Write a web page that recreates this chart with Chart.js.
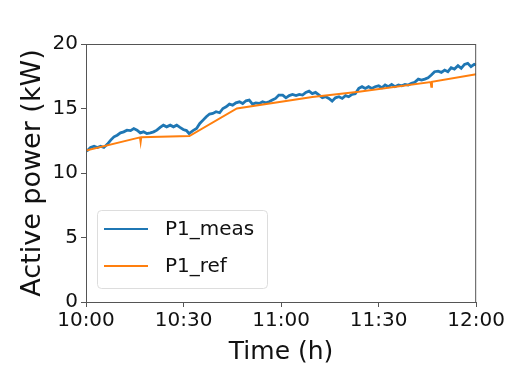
<!DOCTYPE html>
<html>
<head>
<meta charset="utf-8">
<script src="https://cdn.jsdelivr.net/npm/chart.js@4/dist/chart.umd.min.js"></script>
<style>
  html, body { margin: 0; padding: 0; background: #fff; }
  #wrap { width: 507px; height: 368px; }
</style>
</head>
<body>
<div id="wrap"><canvas id="myChart" width="507" height="368"></canvas></div>
<script>
// Data, time in minutes after 10:00
const measMinutes = [0.2, 1.4, 2.5, 3.5, 4.5, 5.5, 6.6, 7.6, 8.6, 9.6, 10.6, 11.6, 12.6, 13.7, 14.7, 15.7,
    16.7, 17.7, 18.7, 19.8, 20.8, 21.8, 22.8, 23.8, 24.8, 25.9, 26.9, 27.9, 28.9, 29.9, 30.9, 31.7,
    32.9, 34.0, 35.0, 36.0, 37.0, 38.0, 39.0, 40.0, 41.1, 42.1, 43.1, 44.1, 45.1, 46.1, 47.2, 48.2,
    49.2, 50.2, 51.2, 52.2, 53.3, 54.3, 55.3, 56.3, 57.3, 58.3, 59.3, 60.5, 61.5, 62.5, 63.5, 64.6,
    65.6, 66.6, 67.6, 68.6, 69.6, 70.6, 71.7, 72.7, 73.7, 74.7, 75.7, 76.7, 77.8, 78.8, 79.8, 80.8,
    81.8, 82.8, 83.9, 84.9, 85.9, 86.9, 87.9, 88.9, 90.0, 91.0, 92.0, 93.0, 94.0, 95.0, 96.1, 97.1,
    98.1, 99.1, 100.1, 101.1, 102.2, 103.2, 104.2, 105.2, 106.2, 107.2, 108.3, 109.3, 110.3, 111.3, 112.3, 113.3,
    114.4, 115.4, 116.4, 117.4, 118.4, 119.4, 120];
const measPower = [11.69, 11.98, 12.08, 11.98, 12.08, 11.98, 12.24, 12.55, 12.8, 12.93, 13.11, 13.19, 13.32, 13.29, 13.45, 13.32,
    13.11, 13.19, 13.06, 13.11, 13.19, 13.32, 13.53, 13.71, 13.58, 13.71, 13.58, 13.71, 13.53, 13.37, 13.29, 13.06,
    13.29, 13.45, 13.84, 14.1, 14.36, 14.57, 14.62, 14.75, 14.67, 15.0, 15.13, 15.34, 15.26, 15.44, 15.52, 15.39,
    15.6, 15.65, 15.34, 15.44, 15.39, 15.52, 15.44, 15.52, 15.65, 15.78, 16.04, 16.04, 15.83, 16.0, 16.09, 16.0,
    16.09, 16.04, 16.25, 16.35, 16.15, 16.25, 16.04, 15.83, 15.91, 15.78, 15.57, 15.83, 15.91, 15.78, 16.0, 15.91,
    16.09, 16.15, 16.56, 16.69, 16.56, 16.69, 16.56, 16.69, 16.76, 16.61, 16.82, 16.69, 16.87, 16.69, 16.82, 16.76,
    16.87, 16.82, 16.95, 17.03, 17.28, 17.2, 17.28, 17.38, 17.59, 17.85, 17.9, 17.8, 17.98, 17.85, 18.16, 18.06,
    18.32, 18.11, 18.42, 18.5, 18.24, 18.42, 18.37];

const refMinutes = [0, 16.6, 16.8, 17.0, 31.8, 46.4, 69.6, 83.9, 106.0, 106.2, 106.4, 120];
const refPower = [11.74, 12.76, 12.4, 12.78, 12.86, 15.0, 15.9, 16.3, 17.05, 16.69, 17.07, 17.65];

const xTicks = [0, 30, 60, 90, 120];
const tickLabels = ['10:00', '10:30', '11:00', '11:30', '12:00'];

const FONT = 'DejaVu Sans';
const AXIS = '#555';

const toPoints = (xs, ys) => xs.map((x, i) => ({ x: x, y: ys[i] }));

// frame on all four sides plus legend inside the plot, like matplotlib
const framePlugin = {
    id: 'frame',
    afterDraw(chart) {
        const { ctx, chartArea: a } = chart;
        ctx.save();
        ctx.strokeStyle = AXIS;
        ctx.lineWidth = 1;
        ctx.strokeRect(a.left + 0.5, a.top + 0.5, a.right - a.left - 1, a.bottom - a.top);

        // legend box
        const bx = a.left + 11, by = a.top + 166, bw = 170, bh = 78;
        ctx.fillStyle = 'rgba(255,255,255,0.8)';
        ctx.strokeStyle = '#ddd';
        ctx.beginPath();
        ctx.roundRect(bx + 0.5, by + 0.5, bw, bh, 4);
        ctx.fill();
        ctx.stroke();

        ctx.font = '20px ' + FONT;
        ctx.textBaseline = 'middle';
        chart.data.datasets.forEach((ds, i) => {
            const yy = by + 19 + i * 37;
            ctx.strokeStyle = ds.borderColor;
            ctx.lineWidth = 2;
            ctx.beginPath();
            ctx.moveTo(bx + 7, yy);
            ctx.lineTo(bx + 51, yy);
            ctx.stroke();
            ctx.fillStyle = '#111';
            ctx.fillText(ds.label, bx + 68, yy + 1);
        });
        ctx.restore();
    }
};

const ctx = document.getElementById('myChart').getContext('2d');
let myChart = new Chart(ctx, {
    type: 'line',
    data: {
        datasets: [{
            label: 'P1_meas',
            data: toPoints(measMinutes, measPower),
            borderColor: '#1f77b4',
            borderWidth: 2.8,
            pointRadius: 0,
            tension: 0,
            order: 1
        }, {
            label: 'P1_ref',
            data: toPoints(refMinutes, refPower),
            borderColor: '#ff7f0e',
            borderWidth: 2,
            pointRadius: 0,
            tension: 0,
            order: 0
        }]
    },
    options: {
        responsive: false,
        animation: false,
        layout: { padding: { top: 44, right: 29, left: 0, bottom: 0 } },
        plugins: {
            legend: { display: false },
            tooltip: { enabled: false }
        },
        scales: {
            x: {
                type: 'linear',
                min: 0,
                max: 120,
                afterFit: (s) => { s.height = 66; },
                afterBuildTicks: (s) => { s.ticks = xTicks.map(v => ({ value: v })); },
                ticks: {
                    color: '#111',
                    padding: 2,
                    maxRotation: 0,
                    font: { family: FONT, size: 20 },
                    callback: (v) => tickLabels[xTicks.indexOf(v)]
                },
                grid: { drawOnChartArea: false, tickLength: 5, tickColor: AXIS, color: AXIS },
                border: { color: AXIS },
                title: {
                    display: true,
                    text: 'Time (h)',
                    color: '#111',
                    font: { family: FONT, size: 25 },
                    padding: { top: 0, bottom: 1 }
                }
            },
            y: {
                min: 0,
                max: 20,
                afterFit: (s) => { s.width = 86; },
                ticks: {
                    stepSize: 5,
                    color: '#111',
                    padding: 3,
                    font: { family: FONT, size: 20 }
                },
                grid: { drawOnChartArea: false, tickLength: 5, tickColor: AXIS, color: AXIS },
                border: { color: AXIS },
                title: {
                    display: true,
                    text: 'Active power (kW)',
                    color: '#111',
                    font: { family: FONT, size: 27 },
                    padding: { top: 17, bottom: 0 }
                }
            }
        }
    },
    plugins: [framePlugin]
});
</script>
</body>
</html>
